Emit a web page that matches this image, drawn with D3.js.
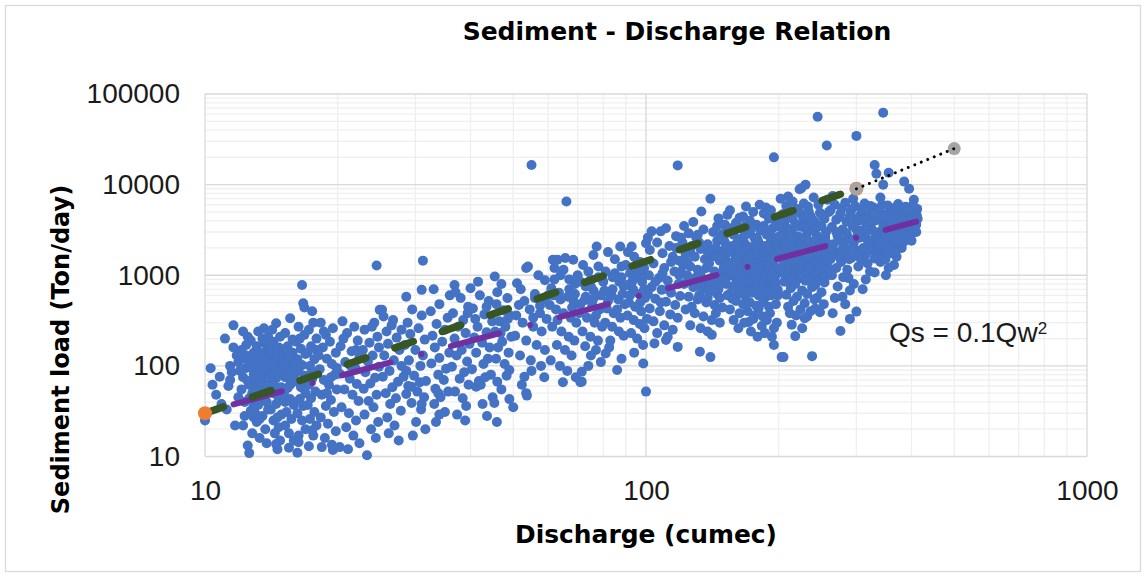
<!DOCTYPE html>
<html>
<head>
<meta charset="utf-8">
<title>Sediment - Discharge Relation</title>
<script src="https://cdn.jsdelivr.net/npm/d3@7"></script>
<style>
  body { margin: 0; background: #fff; }
  svg { display: block; }
  .tick-label { font-family: "Liberation Sans", Arial, sans-serif; font-size: 28px; fill: #1a1a1a; }
  .heading { font-family: "DejaVu Sans", sans-serif; font-weight: bold; fill: #000; }
</style>
</head>
<body>
<svg id="chart" width="1146" height="577"></svg>
<script>
// Split in three flow ranges just to keep the lists manageable.
const lowFlow = [
  [10,25],[10.3,94],[10.8,76],[10.6,48],[10.9,38],[10.4,62],
  [11.1,200],[11.6,280],[11.4,100],[11.7,22],[11.3,60],[11.8,130],[11.5,85],[11.9,45],[11.2,33],[11.6,160],[11.9,110],[11.4,70],
  [12.5,210],[12.5,13.2],[12.6,10.9],[12.1,150],[12.3,120],[12.4,95],[12.2,75],[12.6,62],[12.8,50],[12.3,40],[12.7,32],[12.9,27],
  [12.2,22],[12.8,18],[12.4,170],[12.9,140],[12.7,110],[12.0,88],[12.9,80],[12.5,68],[12.1,55],[12.6,44],[12.9,36],[12.3,28],[12.7,190],[12.2,240],
  [12.8,95],[12.4,130],[13.0,60],
  [13.2,240],[13.5,200],[13.1,165],[13.8,150],[13.4,130],[13.0,115],[13.7,105],[13.3,92],[13.9,85],[13.5,75],[13.1,68],[13.8,62],
  [13.4,55],[13.0,48],[13.6,43],[13.2,37],[13.9,33],[13.5,28],[13.1,24],[13.7,20],[13.3,16],[13.8,14],[13.6,180],[13.2,100],
  [13.9,120],[13.4,70],[13.7,52],[13.0,30],[13.6,260],[13.9,210],[13.3,140],[13.6,88],[13.1,82],[13.8,40],[13.3,26],[13.5,110],
  [14.5,295],[14.2,250],[14.8,210],[14.3,185],[14.7,160],[14.1,140],[14.9,125],[14.4,112],[14.6,100],[14.2,90],[14.8,82],[14.5,73],
  [14.1,65],[14.9,58],[14.3,50],[14.7,44],[14.5,38],[14.1,33],[14.9,29],[14.3,25],[14.7,21],[14.4,18],[14.8,15],[14.6,12],
  [14.2,170],[14.9,95],[14.4,60],[14.6,130],[14.1,105],[14.8,48],[14.3,78],[14.6,27],[14.5,13.7],[14.0,80],[14.6,150],
  [15.6,335],[15.2,230],[15.8,195],[15.4,165],[15.1,145],[15.7,125],[15.3,108],[15.9,96],[15.5,85],[15.2,75],[15.8,66],[15.4,57],
  [15.1,50],[15.6,43],[15.9,37],[15.3,31],[15.7,26],[15.2,22],[15.5,18],[15.9,15],[15.5,12.5],[15.1,120],[15.8,140],[15.4,90],[15.6,62],[15.2,40],
  [15.0,105],[15.5,130],[15.9,75],
  [16.6,780],[16.7,490],[16.3,270],[16.8,220],[16.1,185],[16.5,155],[16.9,135],[16.2,118],[16.6,102],[16.3,88],[16.8,78],[16.1,68],
  [16.5,58],[16.9,50],[16.4,43],[16.7,36],[16.2,30],[16.6,25],[16.9,20],[16.3,17],[16.8,440],[16.4,200],[16.1,95],[16.7,65],[16.2,11],[16.3,14.4],
  [16.0,110],
  [17.5,400],[17.2,250],[17.9,200],[17.4,165],[17.1,140],[17.7,118],[17.3,100],[17.8,85],[17.5,72],[17.2,62],[17.8,52],[17.4,44],
  [17.1,37],[17.7,31],[17.3,26],[17.9,22],[17.6,17],[17.2,13],[17.6,300],[17.9,150],[17.3,80],[17.5,19.5],
  [18.3,300],[19.5,260],[18.8,220],[19.2,185],[18.5,160],[19.8,140],[18.9,120],[19.4,105],[18.2,92],[19.7,80],[18.6,70],[19.1,62],
  [19.9,55],[18.4,48],[19.3,42],[18.8,36],[19.6,31],[18.3,27],[19.0,23],[19.8,19],[18.7,16],[19.4,13.5],[18.1,130],[19.9,95],
  [18.6,240],[19.3,75],[18.9,50],[18.4,12.7],[19.5,11.8],
  [20.5,310],[21.8,270],[21.0,230],[22.2,190],[20.3,165],[21.5,145],[22.4,125],[20.8,110],[21.9,95],[20.2,82],[21.3,72],[22.1,63],
  [20.7,55],[21.6,48],[22.3,41],[20.4,35],[21.2,30],[22.0,25],[20.9,21],[21.7,17],[22.4,14],[21.1,12],[20.6,200],[21.4,100],[22.0,150],[20.2,12.7],
  [24.5,1280],[23.3,10.3],[24.9,415],[24.2,300],[23.0,250],[24.6,210],[23.6,180],[22.8,150],[24.0,130],[23.4,112],[24.8,98],[23.1,85],
  [24.3,74],[23.7,64],[22.9,56],[24.5,48],[23.5,41],[24.1,35],[23.0,29],[24.7,24],[23.8,20],[24.4,16],[23.9,270],[24.8,160]
];

const midFlow = [
  [25.4,350],[26.5,280],[25.8,240],[27.2,205],[26.0,175],[27.6,150],[25.5,130],[26.8,115],[27.9,100],[26.2,88],[25.3,76],[27.4,67],
  [26.6,58],[25.7,50],[27.1,44],[26.3,38],[27.8,32],[25.9,27],[26.9,22],[26.1,18],[27.5,15],[25.2,415],[26.7,320],[27.9,250],
  [31.2,1450],[28.6,580],[31,690],[29.5,420],[31,360],[28.8,300],[30.5,260],[29.2,225],[31.5,195],[28.4,170],[30.0,150],[31.2,130],
  [29.0,115],[30.8,100],[28.6,88],[29.8,78],[31.7,68],[28.9,60],[30.3,52],[31.4,45],[29.4,39],[30.9,33],[28.2,76],[30.7,66],
  [29.4,59],[31.0,38],[28.6,49],[30.1,24],[31.6,20],[29.6,17],
  [33,700],[34,480],[32.5,400],[35.5,340],[33.5,290],[35,250],[32.8,215],[34.5,185],[33.2,160],[35.8,140],[34.0,122],[32.6,106],
  [35.2,93],[33.8,80],[34.8,70],[33.3,56],[35.6,52],[33.8,50],[34.2,45],[33.1,38],[35.0,31],[34,29],[33.4,24],[35.9,600],
  [36.8,780],[38,560],[39.5,450],[36.5,380],[38.5,320],[37.5,270],[39,230],[36.8,200],[39.8,175],[38.2,150],[37.2,130],[39.3,112],
  [36.3,98],[38.7,85],[37.8,72],[39.6,62],[36.9,52],[38.4,44],[37.3,29],[39.1,36],[38.9,25],[37.0,650],[39.4,380],
  [41.6,850],[40,720],[44,520],[40.5,430],[43,370],[44.8,310],[41.5,270],[43.5,235],[40.8,205],[42.5,180],[44.2,160],[41.2,140],
  [43.8,120],[42.8,105],[40.3,92],[44.5,80],[41.8,68],[41.2,59],[43.2,75],[42.2,62],[44.9,45],[43.6,28],[42.6,38],[42,600],[43.5,450],[41,330],
  [45.4,970],[47,800],[46,650],[48.5,560],[45.8,480],[47.5,410],[49.2,360],[46.5,310],[48,270],[45.5,240],[49.5,210],[47.2,185],
  [46.2,160],[48.8,140],[45.7,120],[47.8,105],[49,90],[46,67],[48.3,78],[45.3,39],[45.9,24],[49,43],[47,55],[46.8,230],[48.6,330],
  [55,16500],[51,815],[53.5,1200],[54,1250],[57,1000],[52,700],[56,620],[58.5,540],[51.5,470],[54.5,420],[57.5,380],[59.5,330],
  [52.5,300],[55.5,270],[58,240],[50.5,215],[53.5,190],[56.5,170],[59,150],[51.8,130],[54.8,115],[57.8,100],[50,35],[53.7,47],
  [53.5,50],[53,76],[55,88],[52.3,62],[58.8,75],[56,560],[59,880],[50.8,360],[53,520],[57.5,460],[55.5,340],
  [66,6500],[61.5,1480],[63,1480],[65.6,1550],[68.4,1480],[62,1200],[64,1000],[67,900],[69,800],[61,720],[63.5,640],[66.5,580],
  [68.5,520],[60.5,470],[62.5,420],[65,380],[67.5,340],[69.5,300],[61.3,270],[64.3,240],[66.8,210],[68.8,190],[62.8,170],[65.5,150],
  [67.8,130],[60.8,115],[63.8,100],[66.3,88],[69.3,75],[64.8,66],[61.8,600],[67,700],[63,320],[68,440],[65,1150],
  [62,900],[69,620],[64,540],[60,600],
  [71.5,86],[71.5,67],[71,66],[75,130],[76,1670],[77.3,2080],[72,1300],[74,1100],[78,950],[71,850],[73,750],[76,680],[79,600],
  [72.5,530],[75.5,470],[78.5,420],[70.5,380],[73.5,340],[76.5,300],[79.5,270],[71.8,240],[74.8,210],[77.8,190],[72.8,165],[77,150],
  [79,110],[74,100],[78,1250],[75,900],[73,580],[77,360],[71,480],[70,1000],[75,750],[76,550],
  [87.4,2080],[81,137],[83,190],[86,90],[82,1800],[85,1500],[88,1250],[81,1100],[84,950],[87,850],[89,750],[80.5,680],[83.5,600],
  [86.5,540],[89.5,480],[81.5,430],[84.5,380],[87.5,340],[80.8,300],[83.8,270],[86.8,240],[89,215],[82.5,160],[88,120],[85,1050],
  [88.5,620],[82,520],[86,420],[80,850],[84,700],[88,950],[82,650],
  [92.8,2080],[100,2250],[98.6,106],[100,52],[91,1800],[94,1600],[97,1400],[99,1200],[92,1050],[95,950],[98,850],[90.5,780],
  [93.5,700],[96.5,620],[99.5,560],[91.5,500],[94.5,450],[97.5,400],[90.8,360],[93.8,320],[96.8,290],[99.2,260],[92.5,230],[95.5,200],
  [98.5,170],[94,140],[96,1100],[92,600],[97,500],[99,700],[90,1300],[95,1300],[98,1000],[93,850]
];

const highFlow = [
  [103,3050],[108,3050],[111,3300],[118,16300],[104.5,177],[118,162],[111,193],[101,2600],[106,2300],[113,2100],[117,2700],[102,1900],
  [109,1750],[115,1600],[119,1450],[104,1350],[110,1200],[116,1100],[101.5,1000],[107,930],[112,870],[118.5,800],[103,740],[108.5,690],
  [114,640],[119.5,590],[105,550],[111,510],[116.5,470],[102,430],[107.5,400],[113.5,370],[118,340],[104,310],[110,280],[115,250],
  [106,230],[112,210],[100.5,330],[117,2000],[114,1400],[109,1050],[105,850],[119,1000],[101,620],[112,700],[108,500],
  [128,3870],[133.5,5050],[140,7000],[146,4240],[132.5,143],[140,125],[141,220],[122,3500],[125,2900],[130,2600],[135,3200],
  [142,3000],[148,2800],[121,2300],[127,2100],[133,1950],[138,2200],[144,2000],[149,1850],[123,1700],[129,1600],[136,1500],[141,1650],
  [147,1450],[121.5,1300],[126,1250],[131,1150],[137,1200],[143,1100],[148.5,1050],[124,1000],[130,950],[135,880],[140,920],[146,850],
  [122,800],[128,740],[134,700],[139,650],[145,620],[125,580],[131,540],[137,500],[143,470],[149,440],[123,420],[129,380],[135,350],
  [141,320],[147,300],[126,280],[133,260],[138,240],[144,380],[127,450],[132,600],[146,700],[136,780],[124,1400],[139,1350],[145,2400],[131,2800],
  [120,2600],[126,1800],[132,2300],[138,1800],[144,1600],[126,900],[133,1050],[142,780],[120,1100],[130,820],[138,560],[147,560],
  [153,4640],[168.6,5730],[181,6000],[166,4450],[195,20000],[171,305],[183,275],[180,430],[195,260],[193,210],[195,170],[199,690],
  [199,1050],[155,5200],[160,3800],[165,3300],[172,4000],[178,3600],[185,4800],[190,4200],[197,3900],[152,3100],[158,2800],[163,2500],
  [170,2900],[176,2600],[182,3100],[188,2800],[194,3300],[151,2300],[157,2100],[162,1950],[168,2200],[174,2050],[180,2300],[186,2100],
  [192,2400],[198,2200],[154,1800],[159,1700],[165,1600],[171,1750],[177,1650],[183,1850],[189,1700],[196,1800],[152,1450],[158,1400],
  [164,1350],[170,1450],[176,1300],[182,1400],[188,1500],[194,1380],[150,1200],[156,1150],[162,1100],[168,1180],[174,1080],[180,1150],
  [186,1050],[192,1120],[198,1200],[154,980],[160,920],[166,950],[172,880],[178,940],[184,900],[190,860],[196,950],[152,800],[158,760],
  [164,780],[170,720],[176,760],[182,700],[188,740],[194,780],[156,650],[162,620],[168,590],[174,640],[180,600],[186,560],[192,600],
  [160,520],[166,480],[172,500],[178,460],[184,500],[190,450],[197,480],[155,420],[163,380],[170,400],[176,360],[184,350],[191,380],
  [158,320],[167,300],[175,330],[188,320],[162,260],[173,240],[179,210],[186,230],[198,300],[175,5000],[163,4300],[187,5600],[151,3600],
  [168,3500],[192,5200],[157,550],[199,600],[153,600],
  [145,3500],[150,2600],[156,3300],[161,2300],[167,2700],[173,3200],[179,2500],[185,3500],[191,2900],[197,2600],[149,1600],[155,1900],
  [161,1500],[167,1900],[173,1500],[179,1950],[185,1600],[191,1950],[197,1550],[153,1300],[159,1250],[165,1250],[171,1300],[177,1150],
  [183,1250],[189,1200],[195,1100],[157,1050],[163,1000],[169,1050],[175,980],[181,1000],[187,950],[193,1000],[151,900],[161,840],
  [167,860],[173,800],[179,820],[185,800],[191,740],[197,820],[159,700],[165,700],[171,650],[177,680],[183,620],[189,660],[195,680],
  [210,7400],[223,8900],[225,9100],[230,10000],[245,56000],[257,27000],[203,125],[238,128],[218,213],[214,285],[229,335],[242,430],
  [205,125],[202,7000],[215,6500],[228,6200],[240,7200],[208,5800],[220,5400],[233,5700],[246,6000],[258,6800],[204,4700],[212,4400],
  [224,4800],[236,4500],[248,4900],[206,3900],[218,3700],[230,4000],[242,3800],[254,4200],[203,3300],[214,3100],[226,3400],[238,3200],
  [250,3500],[209,2800],[221,2700],[232,2900],[244,2750],[256,3000],[205,2400],[216,2300],[228,2500],[240,2350],[252,2550],[211,2100],
  [223,2000],[235,2150],[247,2050],[259,2200],[207,1800],[219,1750],[231,1850],[243,1700],[255,1900],[202,1550],[213,1500],[225,1600],
  [237,1480],[249,1580],[209,1350],[221,1300],[233,1400],[245,1280],[257,1380],[204,1150],[216,1100],[228,1200],[240,1120],[252,1050],
  [211,980],[223,920],[235,1000],[247,950],[206,850],[218,800],[230,870],[242,780],[254,830],[213,720],[226,680],[238,740],[250,650],
  [208,610],[220,580],[232,620],[244,560],[216,520],[229,490],[241,540],[253,480],[210,450],[224,420],[236,400],[248,390],[219,360],
  [232,350],[212,380],[226,260],[260,5000],
  [201,2700],[207,2200],[213,2600],[219,2400],[225,2200],[231,2600],[237,2100],[243,2400],[249,2200],[255,2600],[203,1900],[209,1600],
  [215,1900],[221,1600],[227,1800],[233,1650],[239,1900],[245,1650],[251,1850],[257,1700],[205,1300],[211,1200],[217,1350],[223,1150],
  [229,1300],[235,1200],[241,1350],[247,1150],[253,1300],[259,1200],[207,1000],[213,900],[219,1050],[225,1000],[231,920],[237,880],
  [243,1000],[249,880],[255,950],[203,3600],[209,3300],[221,3500],[233,3300],[245,3400],[215,4200],[227,4300],[239,4100],[251,4500],
  [222,5100],[234,5000],[210,5300],
  [276,243],[300,397],[279,580],[330,1070],[330,1530],[308,1480],[288,930],[300,34500],[345,62000],[330,16500],[333,13200],[355,13500],
  [385,10800],[395,9000],[345,10000],[265,7500],[295,7000],[340,7200],[405,6800],[268,6000],[283,6300],[298,5800],[313,6200],[328,5600],
  [343,6000],[358,5500],[373,6100],[388,5700],[403,5900],[412,5400],[262,5200],[276,4800],[291,5000],[306,4600],[321,4900],[336,4500],
  [351,4700],[366,4400],[381,4800],[396,4300],[411,4600],[270,4100],[285,3900],[300,4200],[315,3800],[330,4000],[345,3700],[360,3900],
  [375,3600],[390,3800],[405,3500],[264,3400],[279,3200],[294,3500],[309,3100],[324,3300],[339,3000],[354,3200],[369,2900],[384,3100],
  [399,2800],[410,3000],[272,2700],[287,2600],[302,2800],[317,2500],[332,2700],[347,2400],[362,2600],[377,2300],[392,2500],[266,2200],
  [281,2100],[296,2300],[311,2000],[326,2200],[341,1900],[356,2100],[371,2000],[268,1800],[284,1700],[299,1900],[314,1650],[329,1800],
  [344,1600],[359,1750],[262,1500],[277,1400],[292,1550],[318,1350],[340,1400],[365,1300],[270,1200],[286,1150],[303,1250],[322,1100],
  [350,1000],[264,1000],[280,950],[296,800],[315,900],[272,750],[290,680],[310,700],[268,560],[283,480],[265,380],[290,330],
  [413,4200],[410,3600],[406,4800],[400,2400],[380,2000],[370,1600],[355,1200],[348,2800],[368,5200],[398,5000],
  [270,3000],[285,2900],[300,3200],[315,2900],[330,3000],[345,3300],[360,2900],[375,3100],[390,3300],[275,2400],[290,2500],[305,2600],
  [320,2400],[335,2400],[350,2600],[365,2400],[380,2600],[395,2800],[262,2000],[278,1900],[293,2000],[308,1800],[323,1900],[338,2100],
  [353,1900],[368,1800],[383,2300],[274,1600],[289,1500],[304,1600],[334,1550],[349,1500],[278,5500],[293,5400],[308,5300],[323,5800],
  [338,5200],[353,5900],[368,5600],[383,5300],[398,5600],[275,4400],[290,4500],[305,4000],[320,4300],[335,4200],[350,4300],[365,4000],
  [380,4300],[395,4000],[410,4000]
];

// Qs = 0.1 Qw^2 reference points, the second segment drawn dotted
const lowerEnvelope = [[10, 30], [300, 9000]];
const upperEnvelope = [[300, 9000], [500, 25000]];
// power trend through the observed points
const trendLine = [[10, 31], [410, 3900]];

const xTicks = [10, 100, 1000];
const yTicks = [10, 100, 1000, 10000, 100000];

const svg = d3.select('#chart');
const width = 1146, height = 577;
const plot = { left: 205, right: 1087, top: 94, bottom: 456.5 };

const x = d3.scaleLog().domain([10, 1000]).range([plot.left, plot.right]);
const y = d3.scaleLog().domain([10, 100000]).range([plot.bottom, plot.top]);

// chart border
svg.append('rect')
    .attr('x', 5.5).attr('y', 5.5)
    .attr('width', width - 11).attr('height', height - 11)
    .attr('fill', '#fff')
    .attr('stroke', '#d9d9d9')
    .attr('stroke-width', 1.3);

const isMajor = v => Math.abs(Math.log10(v) - Math.round(Math.log10(v))) < 1e-9;

// minor grid first, then major on top
const grid = svg.append('g');
grid.selectAll('.vminor')
    .data(x.ticks().filter(v => !isMajor(v)))
    .join('line')
    .attr('x1', d => x(d)).attr('x2', d => x(d))
    .attr('y1', plot.top).attr('y2', plot.bottom)
    .attr('stroke', '#efefef').attr('stroke-width', 1.3);
grid.selectAll('.hminor')
    .data(y.ticks().filter(v => !isMajor(v)))
    .join('line')
    .attr('y1', d => y(d)).attr('y2', d => y(d))
    .attr('x1', plot.left).attr('x2', plot.right)
    .attr('stroke', '#efefef').attr('stroke-width', 1.3);
grid.selectAll('.vmajor')
    .data(xTicks)
    .join('line')
    .attr('x1', d => x(d)).attr('x2', d => x(d))
    .attr('y1', plot.top).attr('y2', plot.bottom)
    .attr('stroke', '#d9d9d9').attr('stroke-width', 1.3);
grid.selectAll('.hmajor')
    .data(yTicks)
    .join('line')
    .attr('y1', d => y(d)).attr('y2', d => y(d))
    .attr('x1', plot.left).attr('x2', plot.right)
    .attr('stroke', '#d9d9d9').attr('stroke-width', 1.3);

// axes labels
const yAxis = d3.axisLeft(y).tickValues(yTicks).tickFormat(d3.format('d')).tickSize(0).tickPadding(25);
const xAxis = d3.axisBottom(x).tickValues(xTicks).tickFormat(d3.format('d')).tickSize(0).tickPadding(24);

svg.append('g')
    .attr('transform', `translate(${plot.left},0)`)
    .call(yAxis)
    .call(g => g.select('.domain').remove())
    .selectAll('text')
    .attr('class', 'tick-label');

svg.append('g')
    .attr('transform', `translate(0,${plot.bottom})`)
    .call(xAxis)
    .call(g => g.select('.domain').remove())
    .selectAll('text')
    .attr('class', 'tick-label');

svg.selectAll('.tick text').attr('fill', null);
svg.selectAll('.tick').each(function () {
    d3.select(this.parentNode).attr('font-size', null).attr('font-family', null);
});

// observed points
const observed = lowFlow.concat(midFlow, highFlow);
svg.append('g')
    .selectAll('circle')
    .data(observed)
    .join('circle')
    .attr('cx', d => x(d[0]))
    .attr('cy', d => y(d[1]))
    .attr('r', 5)
    .attr('fill', '#4472c4');

const line = d3.line().x(d => x(d[0])).y(d => y(d[1]));

// trend line (long dash dot)
svg.append('path')
    .attr('d', line(trendLine))
    .attr('fill', 'none')
    .attr('stroke', '#7030a0')
    .attr('stroke-width', 6)
    .attr('stroke-linecap', 'round')
    .attr('stroke-dasharray', '50 32 0.01 30.5')
    .attr('stroke-dashoffset', 83);

// green dashed envelope
svg.append('path')
    .attr('d', line(lowerEnvelope))
    .attr('fill', 'none')
    .attr('stroke', '#375623')
    .attr('stroke-width', 7.5)
    .attr('stroke-linecap', 'round')
    .attr('stroke-dasharray', '19.5 30.7');

svg.append('g')
    .selectAll('circle')
    .data(lowerEnvelope)
    .join('circle')
    .attr('cx', d => x(d[0]))
    .attr('cy', d => y(d[1]))
    .attr('r', 7)
    .attr('fill', '#ed7d31');

svg.append('g')
    .selectAll('circle')
    .data(upperEnvelope)
    .join('circle')
    .attr('cx', d => x(d[0]))
    .attr('cy', d => y(d[1]))
    .attr('r', 6.5)
    .attr('fill', '#a5a5a5');

svg.append('path')
    .attr('d', line(upperEnvelope))
    .attr('fill', 'none')
    .attr('stroke', '#000')
    .attr('stroke-width', 3)
    .attr('stroke-linecap', 'round')
    .attr('stroke-dasharray', '0.01 7');

// titles
svg.append('text')
    .attr('class', 'heading')
    .attr('x', 677).attr('y', 39.5)
    .attr('text-anchor', 'middle')
    .attr('font-size', 25)
    .text('Sediment - Discharge Relation');

svg.append('text')
    .attr('class', 'heading')
    .attr('x', 646).attr('y', 543)
    .attr('text-anchor', 'middle')
    .attr('font-size', 24)
    .attr('textLength', 262)
    .attr('lengthAdjust', 'spacingAndGlyphs')
    .text('Discharge (cumec)');

svg.append('text')
    .attr('class', 'heading')
    .attr('transform', 'translate(69,349.5) rotate(-90)')
    .attr('text-anchor', 'middle')
    .attr('font-size', 24)
    .text('Sediment load (Ton/day)');

// equation label
const eq = svg.append('text')
    .attr('class', 'tick-label')
    .attr('x', 889).attr('y', 342);
eq.append('tspan').text('Qs = 0.1Qw');
eq.append('tspan').attr('font-size', 17).attr('dy', -8).text('2');
</script>
</body>
</html>
